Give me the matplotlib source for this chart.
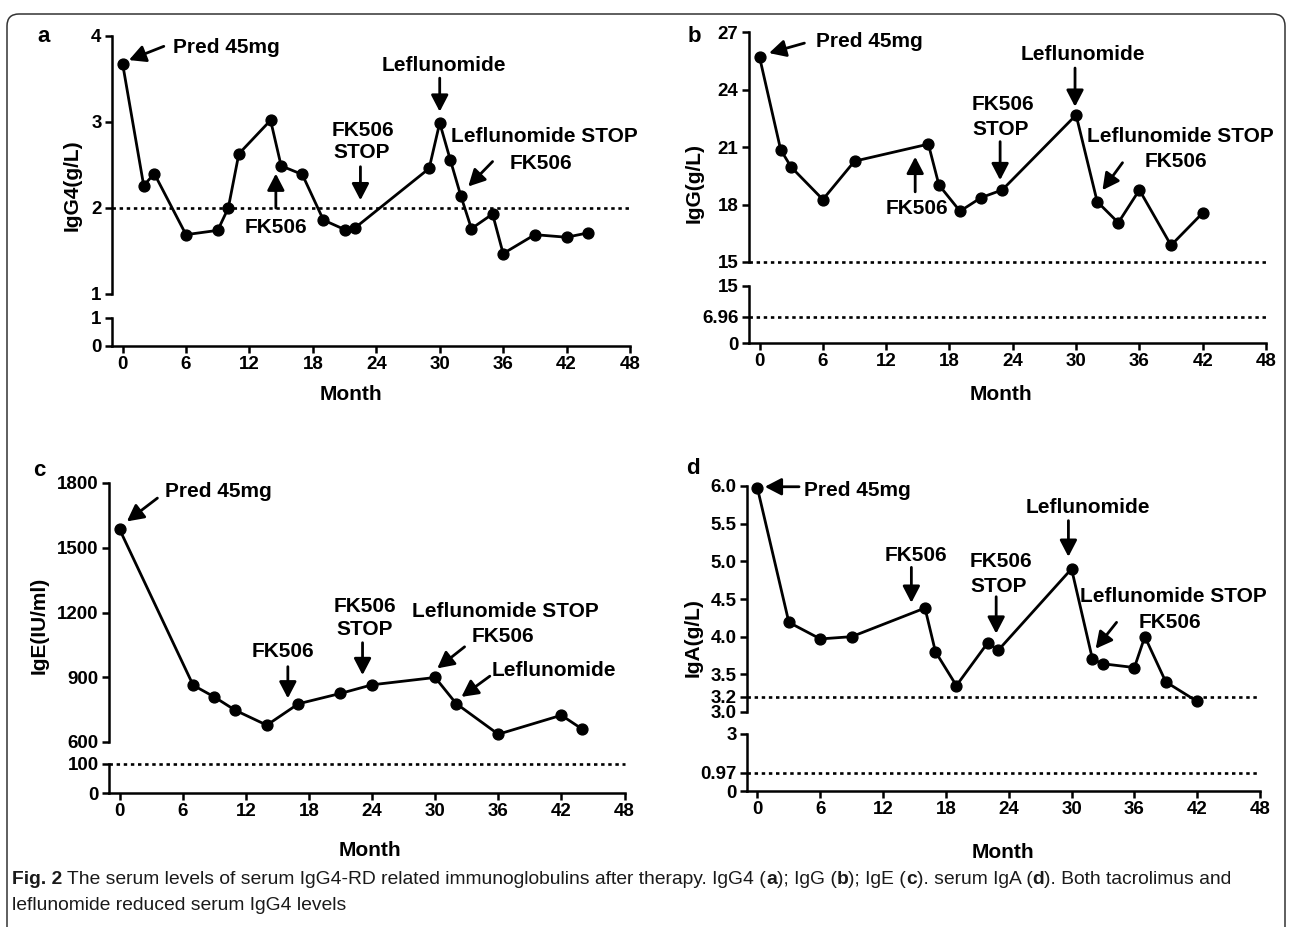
import matplotlib
matplotlib.use('Agg')
import matplotlib.pyplot as plt
from matplotlib.patches import FancyBboxPatch
from matplotlib.transforms import IdentityTransform

W, H = 1292, 927
plt.rcParams['font.family'] = ['Liberation Sans', 'DejaVu Sans']
plt.rcParams['font.weight'] = 'bold'

# data (month, serum level)
months_a = [0, 2, 3, 6, 9, 10, 11, 14, 15, 17, 19, 21, 22, 29, 30, 31, 32, 33, 35, 36, 39, 42, 44]
igg4 = [3.68, 2.26, 2.40, 1.69, 1.74, 2.00, 2.63, 3.02, 2.49, 2.39, 1.86, 1.75, 1.77,
        2.46, 2.99, 2.56, 2.14, 1.76, 1.93, 1.47, 1.69, 1.66, 1.71]

months_b = [0, 2, 3, 6, 9, 16, 17, 19, 21, 23, 30, 32, 34, 36, 39, 42]
igg = [25.69, 20.86, 19.95, 18.26, 20.26, 21.15, 19.02, 17.65, 18.36, 18.76,
       22.67, 18.15, 17.05, 18.76, 15.87, 17.56]

months_c = [0, 7, 9, 11, 14, 17, 21, 24, 30, 32, 36, 42, 44]
ige = [1586, 863, 809, 747, 678, 777, 825, 865, 899, 778, 636, 724, 659]

months_d = [0, 3, 6, 9, 16, 17, 19, 22, 23, 30, 32, 33, 36, 37, 39, 42]
iga = [5.97, 4.19, 3.97, 4.00, 4.38, 3.80, 3.35, 3.92, 3.82, 4.90, 3.70, 3.64,
       3.59, 4.00, 3.40, 3.14]

x_ticks = [0, 6, 12, 18, 24, 30, 36, 42, 48]

fig = plt.figure(figsize=(W / 100, H / 100), dpi=100)


def px_box(l, r, t, b):
    return [l / W, 1 - b / H, (r - l) / W, (b - t) / H]


def ftext(x, y, s, **kw):
    fig.text(x / W, 1 - y / H, s, **kw)


def style(ax):
    for side in ('top', 'right'):
        ax.spines[side].set_visible(False)
    for side in ('left', 'bottom'):
        ax.spines[side].set_linewidth(1.8)
    ax.tick_params(width=1.8, length=5, labelsize=13.5, pad=2.5)
    ax.patch.set_alpha(0)


def panel(box, months, vals, up, low, refs_up, refs_low, notes, arrows,
          ylabel, ylab_xy, letter, let_xy, month_xy):
    l, r, t, b, lt, lb = box
    ax = fig.add_axes(px_box(l, r, t, b))
    ax2 = fig.add_axes(px_box(l, r, lt, lb))
    for a in (ax, ax2):
        style(a)
        a.set_xlim(-1, 48)
    ax.spines['bottom'].set_visible(False)
    ax.tick_params(axis='x', bottom=False, labelbottom=False)
    ax.set_ylim(up[0][0], up[0][-1])
    ax.set_yticks(up[0], up[1])
    ax2.set_ylim(low[0][0], low[0][-1])
    ax2.set_yticks(low[0], low[1])
    ax2.set_xticks(x_ticks)
    for v in refs_up:
        ax.axhline(v, color='k', lw=1.9, ls=(0, (1.3, 1.4)), clip_on=False)
    for v in refs_low:
        ax2.axhline(v, color='k', lw=1.9, ls=(0, (1.3, 1.4)), clip_on=False)
    ax.plot(months, vals, color='k', lw=2.0, marker='o', ms=7.8, clip_on=False)
    for s, xy in notes:
        ax.text(xy[0], xy[1], s, ha='center', va='center', fontsize=15)
    for tail, head in arrows:
        ax.annotate('', xy=head, xytext=tail,
                    arrowprops=dict(arrowstyle='-|>,head_length=0.5,head_width=0.26',
                                    lw=2.0, color='k', mutation_scale=20,
                                    shrinkA=0, shrinkB=0))
    ftext(*ylab_xy, ylabel, rotation=90, ha='center', va='center', fontsize=15)
    ftext(*let_xy, letter, ha='center', va='center', fontsize=16)
    ftext(*month_xy, 'Month', ha='center', va='center', fontsize=15)


panel((112, 630, 36, 294, 318, 346), months_a, igg4,
      ([1, 2, 3, 4], ['1', '2', '3', '4']), ([0, 1], ['0', '1']),
      [2], [],
      [('Pred 45mg', (9.8, 3.87)), ('FK506', (14.5, 1.77)),
       ('FK506', (22.7, 2.9)), ('STOP', (22.6, 2.64)),
       ('Leflunomide', (30.4, 3.66)),
       ('Leflunomide STOP', (39.9, 2.83)), ('FK506', (39.6, 2.52))],
      [((3.9, 3.88), (0.6, 3.72)), ((14.5, 2.0), (14.5, 2.4)),
       ((22.5, 2.48), (22.5, 2.09)), ((30, 3.51), (30, 3.12)),
       ((35.0, 2.54), (32.7, 2.25))],
      'IgG4(g/L)', (72, 185), 'a', (44, 37), (351, 395))

panel((749, 1266, 32, 262, 286, 343), months_b, igg,
      ([15, 18, 21, 24, 27], ['15', '18', '21', '24', '27']),
      ([0, 6.96, 15], ['0', '6.96', '15']),
      [15], [6.96],
      [('Pred 45mg', (10.4, 26.5)), ('FK506', (14.9, 17.79)),
       ('FK506', (23.1, 23.2)), ('STOP', (22.9, 21.9)),
       ('Leflunomide', (30.65, 25.81)),
       ('Leflunomide STOP', (39.9, 21.54)), ('FK506', (39.5, 20.23))],
      [((4.25, 26.42), (0.9, 25.9)), ((14.75, 18.66), (14.75, 20.49)),
       ((22.8, 21.28), (22.8, 19.27)), ((29.9, 25.12), (29.9, 23.1)),
       ((34.4, 20.18), (32.5, 18.75))],
      'IgG(g/L)', (694, 183), 'b', (694, 37), (1001, 395))

panel((109, 624.5, 483, 742, 764, 793), months_c, ige,
      ([600, 900, 1200, 1500, 1800], ['600', '900', '1200', '1500', '1800']),
      ([0, 100], ['0', '100']),
      [], [100],
      [('Pred 45mg', (9.4, 1761)), ('FK506', (15.5, 1018)),
       ('FK506', (23.3, 1227)), ('STOP', (23.3, 1119)),
       ('Leflunomide STOP', (36.7, 1204)), ('FK506', (36.4, 1088)),
       ('Leflunomide', (41.3, 933))],
      [((3.6, 1730), (0.7, 1622)), ((16, 949), (16, 802)),
       ((23.1, 1060), (23.1, 910)), ((32.8, 1041), (30.2, 941)),
       ((35.2, 905), (32.5, 809))],
      'IgE(IU/ml)', (39, 625), 'c', (39, 470), (370, 850))

panel((747, 1260, 486, 712, 734, 791), months_d, iga,
      ([3.0, 3.2, 3.5, 4.0, 4.5, 5.0, 5.5, 6.0],
       ['3.0', '3.2', '3.5', '4.0', '4.5', '5.0', '5.5', '6.0']),
      ([0, 0.97, 3], ['0', '0.97', '3']),
      [3.2], [0.97],
      [('Pred 45mg', (9.5, 5.94)), ('FK506', (15.1, 5.08)),
       ('FK506', (23.3, 5.0)), ('STOP', (23.0, 4.66)),
       ('Leflunomide', (31.6, 5.71)),
       ('Leflunomide STOP', (39.7, 4.53)), ('FK506', (39.4, 4.19))],
      [((3.97, 5.99), (0.7, 5.99)), ((14.7, 4.92), (14.7, 4.45)),
       ((22.8, 4.53), (22.8, 4.04)), ((29.7, 5.54), (29.7, 5.06)),
       ((34.3, 4.19), (32.3, 3.84))],
      'IgA(g/L)', (693, 638), 'd', (693, 468), (1003, 852))

# rounded frame around the figure (open at the bottom)
frame = FancyBboxPatch((7, -30), W - 14, H - 7 + 30 - 7,
                       boxstyle='round,pad=0,rounding_size=12',
                       transform=IdentityTransform(), fill=False,
                       ec='#333333', lw=1.1)
fig.patches.append(frame)

# caption with bold parts
cap_font = ['Liberation Sans Narrow', 'Liberation Sans', 'DejaVu Sans']
line1 = [('Fig. 2', 'bold'),
         (' The serum levels of serum IgG4-RD related immunoglobulins after therapy. IgG4 (', 'normal'),
         ('a', 'bold'), ('); IgG (', 'normal'), ('b', 'bold'), ('); IgE (', 'normal'),
         ('c', 'bold'), ('). serum IgA (', 'normal'), ('d', 'bold'),
         ('). Both tacrolimus and', 'normal')]
line2 = [('leflunomide reduced serum IgG4 levels', 'normal')]

renderer = fig.canvas.get_renderer()


def rich(runs, x, y, size):
    for s, w in runs:
        t = fig.text(x / W, 1 - y / H, s, fontsize=size, fontweight=w,
                     family=cap_font, color='#1a1a1a', va='center', ha='left')
        x += t.get_window_extent(renderer).width
    return x


rich(line1, 12, 880, 13.9)
rich(line2, 12, 906, 13.9)

fig.savefig('out.png', dpi=100)
